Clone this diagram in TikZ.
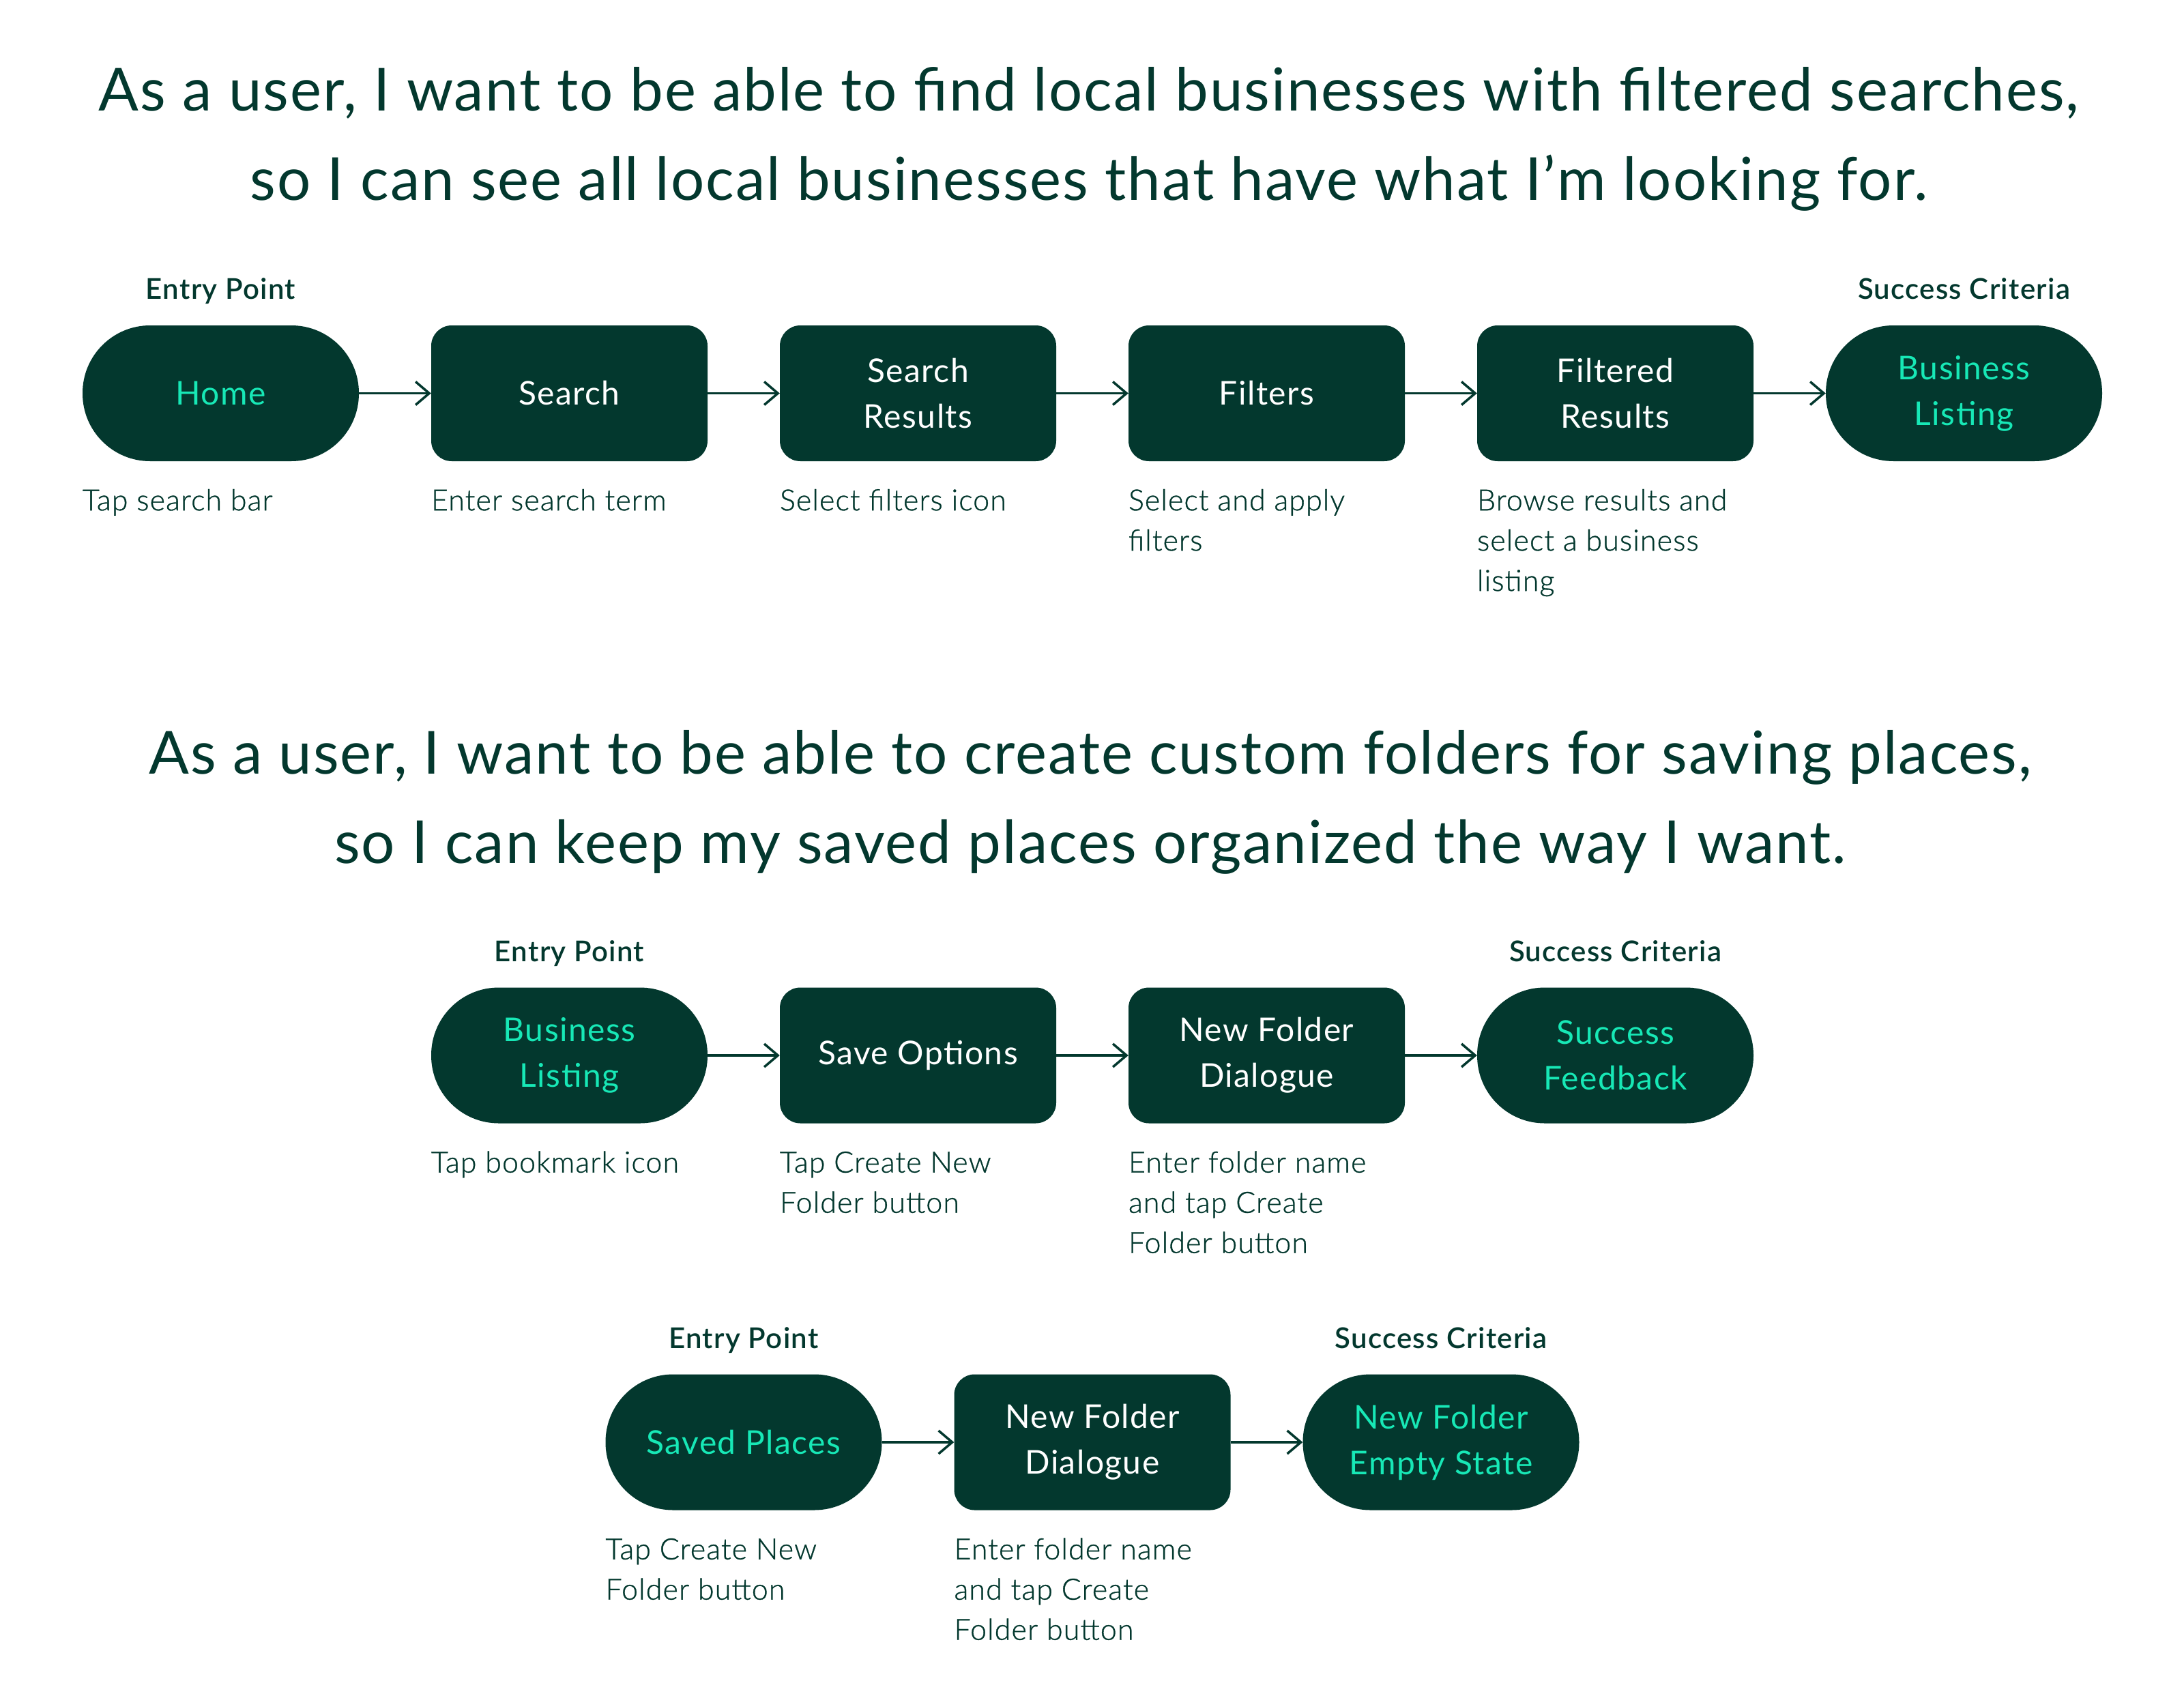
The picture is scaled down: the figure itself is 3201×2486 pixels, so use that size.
\documentclass[tikz,border=0pt]{standalone}
\usepackage{fontspec}
\usetikzlibrary{arrows.meta}
\setmainfont{Lato}
\newfontfamily\titlefont{Lato}[LetterSpace=2.3]
\newfontfamily\nodefont{Lato}[LetterSpace=3]
\IfFontExistsTF{Lato Light}{\newfontfamily\bodyfont{Lato Light}[LetterSpace=2.5,FakeBold=0.8]}{\newfontfamily\bodyfont{Lato}[LetterSpace=2.5]}
\IfFontExistsTF{Lato Semibold}{\newfontfamily\medfont{Lato Semibold}[LetterSpace=3]}{\newfontfamily\medfont{Lato}[LetterSpace=3]}
\definecolor{dk}{HTML}{03382E}
\definecolor{aq}{HTML}{17E8B6}
\tikzset{
  basebox/.style={fill=dk, minimum width=405pt, minimum height=199pt, inner sep=0pt,
    align=center, font=\nodefont\fontsize{48}{67}\selectfont},
  pill/.style={basebox, rounded corners=99pt, text=aq},
  stepbox/.style={basebox, rounded corners=30pt, text=white},
  arr/.style={draw=dk, line width=3.5pt, -{Straight Barb[length=20pt,width=34pt]}},
  toplbl/.style={anchor=base, text=dk, inner sep=0pt, font=\medfont\fontsize{42}{50}\selectfont},
  note/.style={anchor=base west, text=dk, align=left, inner sep=0pt, font=\bodyfont\fontsize{43}{59}\selectfont},
  titletext/.style={anchor=base, text=dk, align=center, inner sep=0pt, font=\titlefont\fontsize{87}{131}\selectfont}
}
\begin{document}
\begin{tikzpicture}[x=1pt,y=-1pt]
\fill[white] (0,0) rectangle (3201,2486);
\useasboundingbox (0,0) rectangle (3201,2486);

% ---- titles (anchor = baseline of the last line)
\node[titletext] (t1) at (1596,293) {As a user, I want to be able to find local businesses with filtered searches,\\so I can see all local businesses that have what I’m looking for.};
\node[titletext] (t2) at (1598,1265) {As a user, I want to be able to create custom folders for saving places,\\so I can keep my saved places organized the way I want.};

% ---- row 1
\node[pill]    (home)  at (323.5,576.5)  {Home};
\node[stepbox] (srch)  at (834.5,576.5)  {Search};
\node[stepbox] (sres)  at (1345.5,576.5) {Search\\Results};
\node[stepbox] (filt)  at (1856.5,576.5) {Filters};
\node[stepbox] (fres)  at (2367.5,576.5) {Filtered\\Results};
\node[pill]    (blist) at (2878.5,576.5) {Business\\Listing};

\node[toplbl] (ep1) at ([yshift=38pt]home.north) {Entry Point};
\node[toplbl] (sc1) at ([yshift=38pt]blist.north) {Success Criteria};

\node[note] (n1) at ([yshift=-72pt]home.south west) {Tap search bar};
\node[note] (n2) at ([yshift=-72pt]srch.south west) {Enter search term};
\node[note] (n3) at ([yshift=-72pt]sres.south west) {Select filters icon};
\node[note] (n4) at ([yshift=-131pt]filt.south west) {Select and apply\\filters};
\node[note] (n5) at ([yshift=-190pt]fres.south west) {Browse results and\\select a business\\listing};

\draw[arr] (home) -- (srch);
\draw[arr] (srch) -- (sres);
\draw[arr] (sres) -- (filt);
\draw[arr] (filt) -- (fres);
\draw[arr] (fres) -- (blist);

% ---- row 2
\node[pill]    (bl2)  at (834.5,1547)  {Business\\Listing};
\node[stepbox] (save) at (1345.5,1547) {Save Options};
\node[stepbox] (nfd)  at (1856.5,1547) {New Folder\\Dialogue};
\node[pill]    (sfb)  at (2367.5,1547) {Success\\Feedback};

\node[toplbl] (ep2) at ([yshift=38pt]bl2.north) {Entry Point};
\node[toplbl] (sc2) at ([yshift=38pt]sfb.north) {Success Criteria};

\node[note] (m1) at ([yshift=-72pt]bl2.south west) {Tap bookmark icon};
\node[note] (m2) at ([yshift=-131pt]save.south west) {Tap Create New\\Folder button};
\node[note] (m3) at ([yshift=-190pt]nfd.south west) {Enter folder name\\and tap Create\\Folder button};

\draw[arr] (bl2) -- (save);
\draw[arr] (save) -- (nfd);
\draw[arr] (nfd) -- (sfb);

% ---- row 3
\node[pill]    (sp)   at (1090,2114)   {Saved Places};
\node[stepbox] (nfd2) at (1601,2114)   {New Folder\\Dialogue};
\node[pill]    (nfe)  at (2112,2114)   {New Folder\\Empty State};

\node[toplbl] (ep3) at ([yshift=38pt]sp.north) {Entry Point};
\node[toplbl] (sc3) at ([yshift=38pt]nfe.north) {Success Criteria};

\node[note] (k1) at ([yshift=-131pt]sp.south west) {Tap Create New\\Folder button};
\node[note] (k2) at ([yshift=-190pt]nfd2.south west) {Enter folder name\\and tap Create\\Folder button};

\draw[arr] (sp) -- (nfd2);
\draw[arr] (nfd2) -- (nfe);
\end{tikzpicture}
\end{document}
